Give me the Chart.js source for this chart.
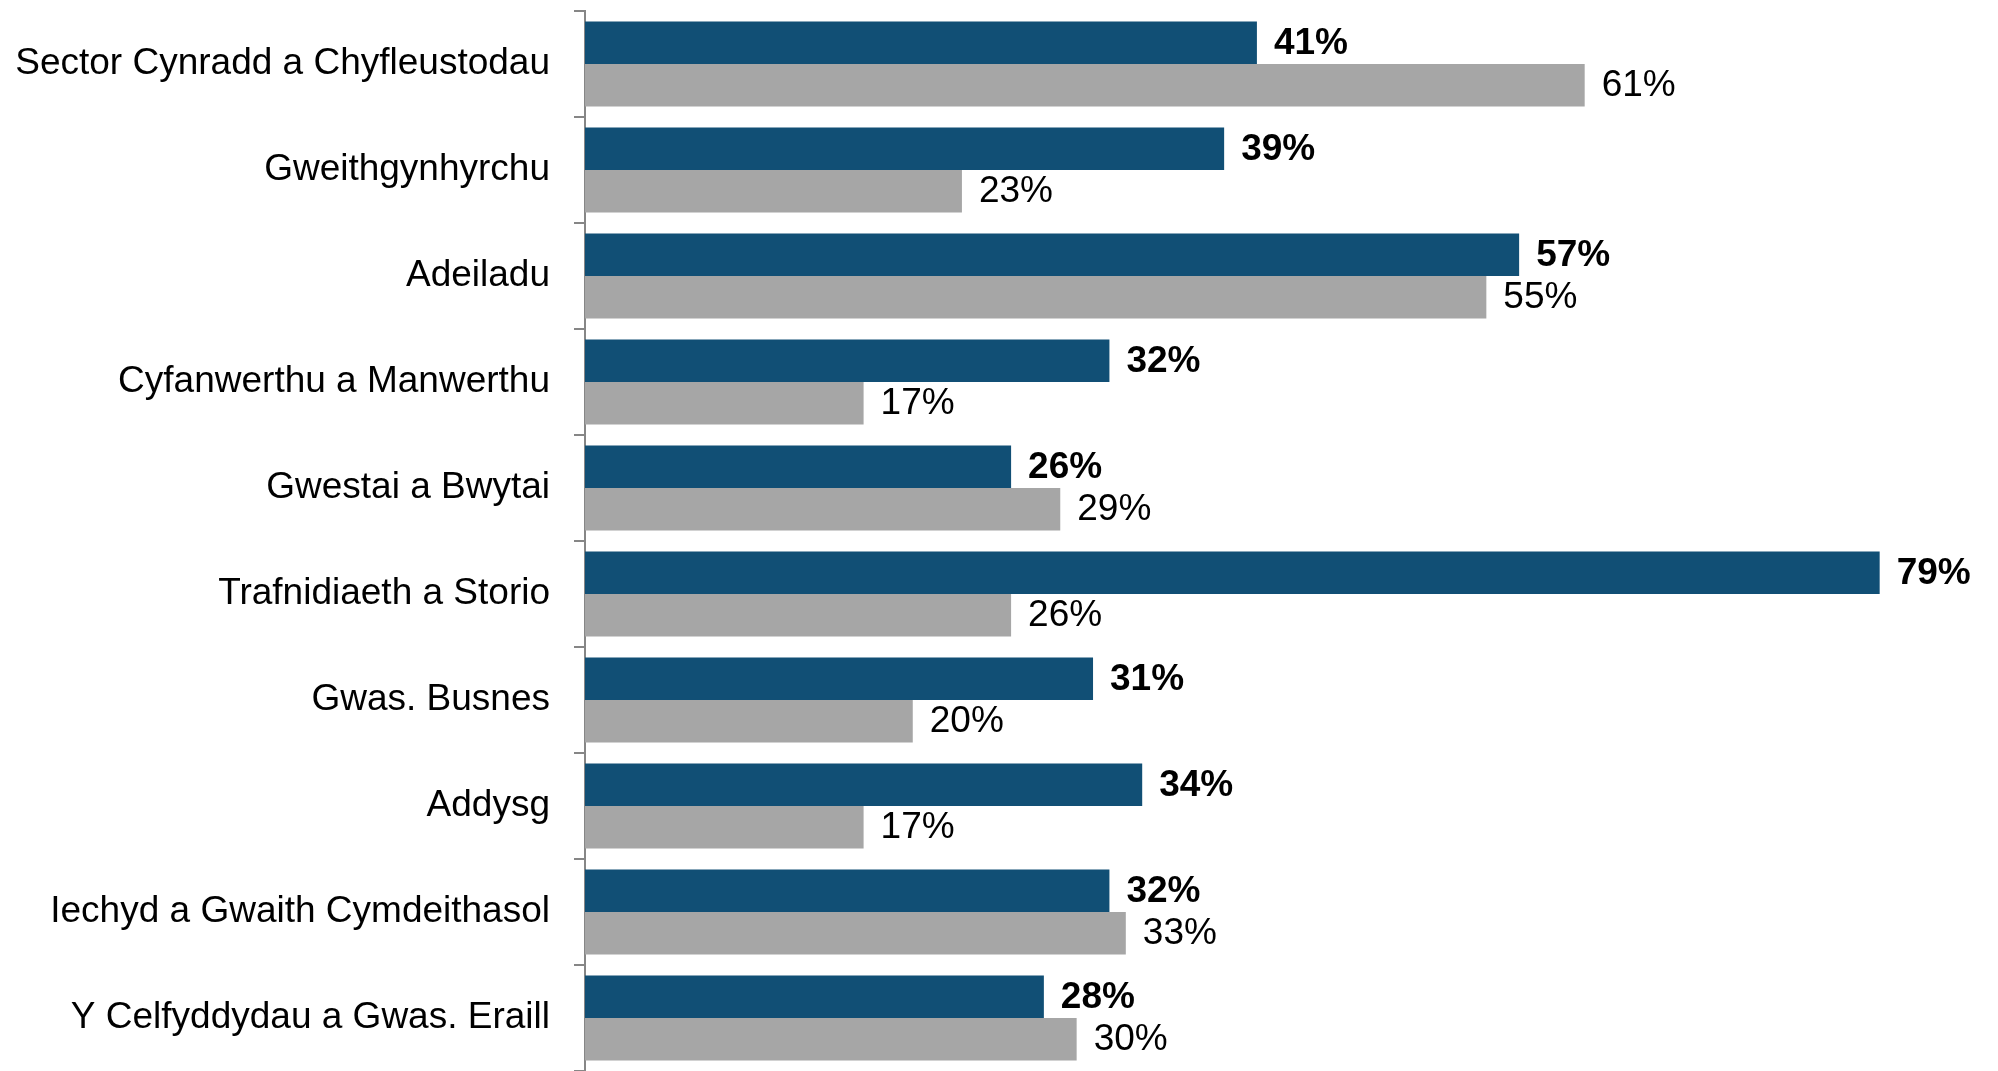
<!DOCTYPE html>
<html>
<head>
<meta charset="utf-8">
<script src="https://cdn.jsdelivr.net/npm/chart.js@4"></script>
<style>
  html, body { margin: 0; padding: 0; background: #ffffff; }
  #wrap { width: 1998px; height: 1071px; }
</style>
</head>
<body>
<div id="wrap"><canvas id="c" width="1998" height="1071"></canvas></div>
<script>
const categories = [
  "Sector Cynradd a Chyfleustodau",
  "Gweithgynhyrchu",
  "Adeiladu",
  "Cyfanwerthu a Manwerthu",
  "Gwestai a Bwytai",
  "Trafnidiaeth a Storio",
  "Gwas. Busnes",
  "Addysg",
  "Iechyd a Gwaith Cymdeithasol",
  "Y Celfyddydau a Gwas. Eraill"
];
const seriesA = [41, 39, 57, 32, 26, 79, 31, 34, 32, 28];
const seriesB = [61, 23, 55, 17, 29, 26, 20, 17, 33, 30];

const FONT = "'Liberation Sans', Arial, sans-serif";

const valueLabels = {
  id: 'valueLabels',
  afterDatasetsDraw(chart) {
    const ctx = chart.ctx;
    ctx.save();
    ctx.textAlign = 'left';
    ctx.textBaseline = 'middle';
    ctx.fillStyle = '#000000';
    chart.data.datasets.forEach((ds, di) => {
      const meta = chart.getDatasetMeta(di);
      ctx.font = (di === 0 ? 'bold ' : '') + '37px ' + FONT;
      meta.data.forEach((el, i) => {
        ctx.fillText(ds.data[i] + '%', el.x + 17, el.y + 1);
      });
    });
    ctx.restore();
  }
};

new Chart(document.getElementById('c'), {
  type: 'bar',
  data: {
    labels: categories,
    datasets: [
      { label: 'Cyfres 1', data: seriesA, backgroundColor: '#114f75', borderWidth: 0 },
      { label: 'Cyfres 2', data: seriesB, backgroundColor: '#a6a6a6', borderWidth: 0 }
    ]
  },
  options: {
    indexAxis: 'y',
    responsive: false,
    animation: false,
    devicePixelRatio: 1,
    layout: { padding: { top: 11, bottom: 0, left: 0, right: 20 } },
    categoryPercentage: 0.8,
    barPercentage: 1.0,
    plugins: { legend: { display: false }, tooltip: { enabled: false } },
    scales: {
      x: { display: false, min: 0, max: 85 },
      y: {
        offset: true,
        afterFit(scale) {
          scale.width = 585;
          scale.paddingTop = 0;
          scale.paddingBottom = 0;
        },
        border: { display: true, color: '#868686', width: 2 },
        grid: { display: true, drawOnChartArea: false, drawTicks: true, tickLength: 11, color: '#868686', lineWidth: 2, offset: true },
        ticks: { color: '#000000', padding: 24, font: { family: FONT, size: 37 } }
      }
    }
  },
  plugins: [valueLabels]
});
</script>
</body>
</html>
